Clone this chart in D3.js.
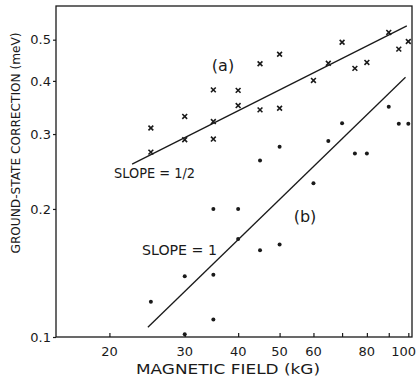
<!DOCTYPE html>
<html>
<head>
<meta charset="utf-8">
<script src="https://cdnjs.cloudflare.com/ajax/libs/d3/7.8.2/d3.min.js"></script>
<style>
  html, body { margin: 0; padding: 0; background: #fff; }
  svg { display: block; }
  text { font-family: 'DejaVu Sans', sans-serif; fill: #1a1a1a; }
</style>
</head>
<body>
<svg id="chart"></svg>
<script>
// series (a): crosses, series (b): dots
const fieldA = [25, 25, 30, 30, 35, 35, 35, 40, 40, 45, 45, 50, 50, 60, 65, 70, 75, 80, 90, 95, 100];
const corrA = [0.31, 0.272, 0.33, 0.291, 0.381, 0.321, 0.292, 0.38, 0.35, 0.439, 0.342, 0.462, 0.345, 0.401, 0.44, 0.493, 0.428, 0.442, 0.52, 0.475, 0.495];
const fieldB = [25, 30, 30, 35, 35, 35, 40, 40, 45, 45, 50, 50, 60, 65, 70, 75, 80, 90, 95, 100];
const corrB = [0.121, 0.139, 0.1015, 0.2, 0.14, 0.11, 0.2, 0.17, 0.16, 0.26, 0.165, 0.28, 0.23, 0.289, 0.318, 0.27, 0.27, 0.348, 0.317, 0.317];

// fitted lines, end points
const lineA = [[22.6, 0.255], [99.2, 0.539]];
const lineB = [[24.6, 0.1054], [98.5, 0.408]];

const xTicks = [20, 30, 40, 50, 60, 70, 80, 90, 100];
const xLabels = [20, 30, 40, 50, 60, 80, 100];
const yTicks = [0.1, 0.2, 0.3, 0.4, 0.5];

const W = 417, H = 379;
const MARGIN = { top: 6, right: 5, bottom: 42, left: 56 };

const $svg = d3.select('#chart').attr('width', W).attr('height', H);

const x = d3.scaleLog().domain([15, 102]).range([MARGIN.left, W - MARGIN.right]);
const y = d3.scaleLog().domain([0.1, 0.6]).range([H - MARGIN.bottom, MARGIN.top]);

const ink = '#1a1a1a';

// frame
$svg.append('rect')
    .attr('x', MARGIN.left)
    .attr('y', MARGIN.top)
    .attr('width', W - MARGIN.left - MARGIN.right)
    .attr('height', H - MARGIN.top - MARGIN.bottom)
    .attr('fill', 'none')
    .attr('stroke', ink)
    .attr('stroke-width', 1.3);

// x axis: ticks point inward
const xAxis = $svg.append('g')
    .attr('transform', `translate(0, ${H - MARGIN.bottom})`)
    .call(d3.axisTop(x).tickValues(xTicks).tickSize(4).tickFormat(''));
xAxis.select('.domain').remove();
xAxis.selectAll('line').attr('stroke', ink).attr('stroke-width', 1.2);

// last label sits against the right edge
const lastX = xLabels[xLabels.length - 1];
$svg.append('g').selectAll('text')
    .data(xLabels)
    .enter().append('text')
    .attr('x', d => d === lastX ? W - 1 : x(d))
    .attr('y', H - MARGIN.bottom + 19)
    .attr('text-anchor', d => d === lastX ? 'end' : 'middle')
    .attr('font-size', 13)
    .text(d => d);

// y axis: ticks point outward
const yAxis = $svg.append('g')
    .attr('transform', `translate(${MARGIN.left}, 0)`)
    .call(d3.axisLeft(y).tickValues(yTicks).tickSize(3).tickPadding(2).tickFormat(d3.format('.1f')));
yAxis.select('.domain').remove();
yAxis.selectAll('line').attr('stroke', ink).attr('stroke-width', 1.2);
yAxis.selectAll('text')
    .attr('font-size', 13)
    .attr('font-family', "'DejaVu Sans', sans-serif")
    .attr('fill', ink);

// axis titles
$svg.append('text')
    .attr('x', 228)
    .attr('y', 374)
    .attr('text-anchor', 'middle')
    .attr('font-size', 14)
    .attr('textLength', 184)
    .attr('lengthAdjust', 'spacingAndGlyphs')
    .text('MAGNETIC FIELD (kG)');

$svg.append('text')
    .attr('transform', 'translate(20, 143) rotate(-90)')
    .attr('text-anchor', 'middle')
    .attr('font-size', 12.5)
    .attr('textLength', 221)
    .attr('lengthAdjust', 'spacingAndGlyphs')
    .text('GROUND-STATE CORRECTION (meV)');

// fitted lines
const line = d3.line().x(d => x(d[0])).y(d => y(d[1]));
[lineA, lineB].forEach(pts => {
    $svg.append('path')
        .attr('d', line(pts))
        .attr('fill', 'none')
        .attr('stroke', ink)
        .attr('stroke-width', 1.3);
});

// crosses (a)
const dataA = fieldA.map((f, i) => ({ f, v: corrA[i] }));
const cross = $svg.append('g').selectAll('g')
    .data(dataA)
    .enter().append('g')
    .attr('transform', d => `translate(${x(d.f)}, ${y(d.v)})`);
cross.append('path')
    .attr('d', 'M-2.4,-2.4L2.4,2.4M-2.4,2.4L2.4,-2.4')
    .attr('stroke', ink)
    .attr('stroke-width', 1.6);

// dots (b)
const dataB = fieldB.map((f, i) => ({ f, v: corrB[i] }));
$svg.append('g').selectAll('circle')
    .data(dataB)
    .enter().append('circle')
    .attr('cx', d => x(d.f))
    .attr('cy', d => y(d.v))
    .attr('r', 2)
    .attr('fill', ink);

// annotations
$svg.append('text').attr('x', 223).attr('y', 71).attr('text-anchor', 'middle')
    .attr('font-size', 16).text('(a)');
$svg.append('text').attr('x', 305).attr('y', 222).attr('text-anchor', 'middle')
    .attr('font-size', 16).text('(b)');
$svg.append('text').attr('x', 114).attr('y', 178)
    .attr('font-size', 14).attr('textLength', 81).attr('lengthAdjust', 'spacingAndGlyphs')
    .text('SLOPE = 1/2');
$svg.append('text').attr('x', 142).attr('y', 255)
    .attr('font-size', 14).attr('textLength', 75).attr('lengthAdjust', 'spacingAndGlyphs')
    .text('SLOPE = 1');
</script>
</body>
</html>
